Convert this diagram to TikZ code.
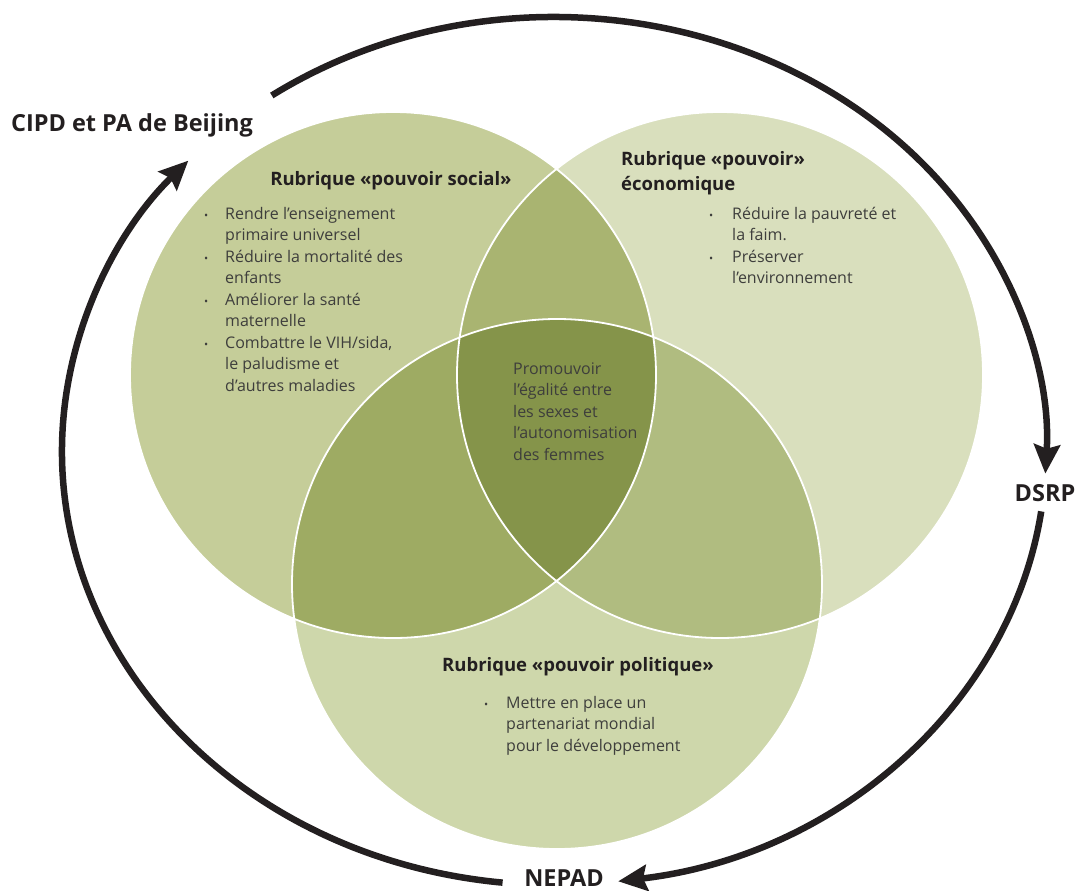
\documentclass[tikz,border=0pt]{standalone}
\usepackage{fontspec}
\setmainfont{Open Sans}
\usetikzlibrary{arrows.meta}

\definecolor{inkblack}{HTML}{231F20}
\definecolor{bodygrey}{HTML}{3E3E3C}
\definecolor{socialC}{HTML}{C5CD99}
\definecolor{econC}{HTML}{D9DFBD}
\definecolor{politicC}{HTML}{CED7AB}
\definecolor{soceconC}{HTML}{A9B471}
\definecolor{socpolC}{HTML}{9EAB63}
\definecolor{econpolC}{HTML}{B0BC80}
\definecolor{allC}{HTML}{85944A}

% the three discs
\def\socialdisc{(393,375) circle[radius=263]}
\def\econdisc{(720,375) circle[radius=263]}
\def\politicdisc{(557,584) circle[radius=265]}
\newcommand\itembullet{{\fontsize{11}{11}\selectfont\textbullet}}

\begin{document}
\begin{tikzpicture}[x=1pt, y=-1pt,
    flow/.style={line width=6.5pt, draw=inkblack, -{Stealth[length=29pt,width=26pt,inset=4pt]}},
    circlabel/.style={font=\bfseries\fontsize{23.5}{28}\selectfont, text=inkblack, inner sep=0pt},
    heading/.style={font=\bfseries\fontsize{18.5}{25}\selectfont, text=inkblack, inner sep=0pt},
    items/.style={font=\fontsize{16}{21.5}\selectfont, text=bodygrey, inner sep=0pt, anchor=base west}]
  \useasboundingbox (0,0) rectangle (1079,891);

  % discs and their overlaps
  \fill[socialC] \socialdisc;
  \fill[econC] \econdisc;
  \fill[politicC] \politicdisc;
  \begin{scope}
    \clip \econdisc;
    \fill[econpolC] \politicdisc;
  \end{scope}
  \begin{scope}
    \clip \socialdisc;
    \fill[soceconC] \econdisc;
    \fill[socpolC] \politicdisc;
    \clip \econdisc;
    \fill[allC] \politicdisc;
  \end{scope}
  \draw[white, line width=1.8pt] \socialdisc \econdisc \politicdisc;

  % texts in the discs
  \node[heading, anchor=base] (socialhead) at (391,185) {Rubrique «pouvoir social»};
  \node[items] (sociallist) at (204,219) {\begin{tabular}[t]{@{}p{21pt}@{}l@{}}
    \itembullet & Rendre l’enseignement\\
     & primaire universel\\
    \itembullet & Réduire la mortalité des\\
     & enfants\\
    \itembullet & Améliorer la santé\\
     & maternelle\\
    \itembullet & Combattre le VIH/sida,\\
     & le paludisme et\\
     & d’autres maladies
  \end{tabular}};

  \node[heading, anchor=base west] (econhead) at (621,165) {\begin{tabular}[t]{@{}l@{}}
    Rubrique «pouvoir»\\
    économique
  \end{tabular}};
  \node[items] (econlist) at (709,219) {\begin{tabular}[t]{@{}p{23pt}@{}l@{}}
    \itembullet & Réduire la pauvreté et\\
     & la faim.\\
    \itembullet & Préserver\\
     & l’environnement
  \end{tabular}};

  \node[items] (centre) at (513,374) {\begin{tabular}[t]{@{}l@{}}
    Promouvoir\\
    l’égalité entre\\
    les sexes et\\
    l’autonomisation\\
    des femmes
  \end{tabular}};

  \node[heading, anchor=base] (polhead) at (578,671) {Rubrique «pouvoir politique»};
  \node[items] (pollist) at (484,708) {\begin{tabular}[t]{@{}p{22pt}@{}l@{}}
    \itembullet & Mettre en place un\\
     & partenariat mondial\\
     & pour le développement
  \end{tabular}};

  % outer labels and the loop of arrows
  \node[circlabel, anchor=base] (cipd) at (132,131) {CIPD et PA de Beijing};
  \node[circlabel, anchor=base] (dsrp) at (1045,501) {DSRP};
  \node[circlabel, anchor=base] (nepad) at (564,886) {NEPAD};

  \coordinate (loopc) at (554,451);
  \path (loopc) ++(-125:492 and 434) coordinate (cipd-out);
  \path (loopc) ++(8:492 and 434) coordinate (dsrp-out);
  \path (loopc) ++(96:492 and 434) coordinate (nepad-out);
  \draw[flow] (cipd-out) arc[start angle=-125, end angle=3, x radius=492, y radius=434];
  \draw[flow] (dsrp-out) arc[start angle=8, end angle=82.5, x radius=492, y radius=434];
  \draw[flow] (nepad-out) arc[start angle=96, end angle=222, x radius=492, y radius=434];
\end{tikzpicture}
\end{document}
